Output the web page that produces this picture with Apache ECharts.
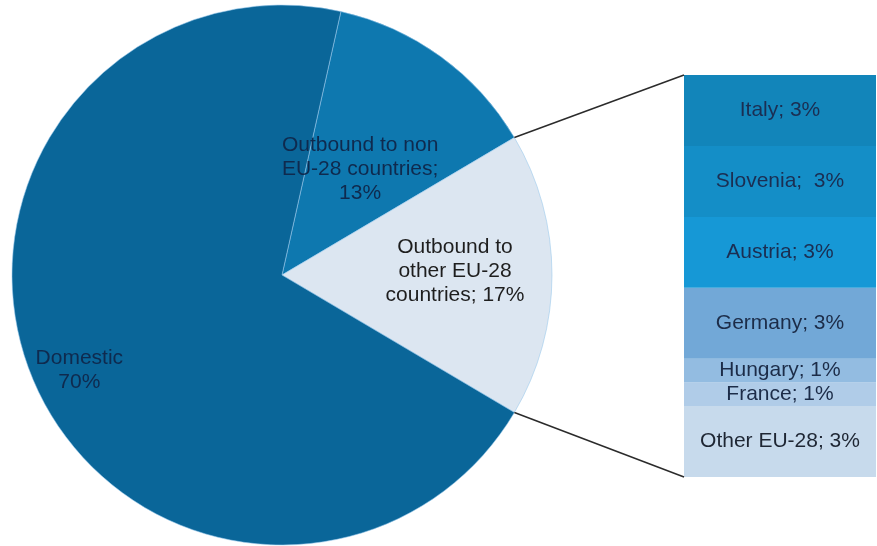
<!DOCTYPE html>
<html>
<head>
<meta charset="utf-8">
<script src="https://cdn.jsdelivr.net/npm/echarts@6/dist/echarts.min.js"></script>
<style>
  html, body { margin: 0; padding: 0; background: #ffffff; }
  #chart { width: 877px; height: 546px; }
</style>
</head>
<body>
<div id="chart"></div>
<script>
// Pie: where the trips go
const pieNames = ['Outbound to non EU-28 countries', 'Outbound to other EU-28 countries', 'Domestic'];
const pieValues = [13, 17, 70];
const pieLabels = ['Outbound to non\nEU-28 countries;\n13%', 'Outbound to\nother EU-28\ncountries; 17%', 'Domestic\n70%'];

// Stacked bar: breakdown of the "other EU-28" slice, top to bottom
const barNames = ['Italy', 'Slovenia', 'Austria', 'Germany', 'Hungary', 'France', 'Other EU-28'];
const barValues = [3, 3, 3, 3, 1, 1, 3];
const barLabels = ['Italy; 3%', 'Slovenia;  3%', 'Austria; 3%', 'Germany; 3%', 'Hungary; 1%', 'France; 1%', 'Other EU-28; 3%'];

// Styling
const pieColors = ['#0E78AF', '#DCE6F1', '#0A6699'];
const pieTextColors = ['#0f2a4e', '#1e1e1e', '#0f2a4e'];
const barColors = ['#1285BA', '#148EC7', '#1698D6', '#72A8D7', '#93BCE1', '#B0CCE8', '#C7DAEC'];
const barTextColors = ['#1b2e52', '#1b2e52', '#1b2e52', '#1c2c48', '#1c2c48', '#1c2c48', '#1e2633'];
const FONT = '"Liberation Sans", Arial, sans-serif';
const FONT_SIZE = 21;

const pieCenter = [282, 275];
const pieRadius = 270;
const barBox = { left: 684, top: 75, width: 192, height: 402 };

// Slice 1 (other EU-28) is centred on the horizontal axis, facing the bar
const pieTotal = pieValues.reduce((a, b) => a + b, 0);
const halfDetail = pieValues[1] / pieTotal * 180;            // degrees
const startAngle = halfDetail + pieValues[0] / pieTotal * 360;
const barTotal = barValues.reduce((a, b) => a + b, 0);

// Label nudges relative to ECharts' "inside" anchor
const pieLabelShift = [[-3, 6], [35, -4], [-76, 40]];

const chart = echarts.init(document.getElementById('chart'), null, { renderer: 'canvas' });

// Bars stack bottom-up, so add series from the last category upwards
const barSeries = [];
for (let i = barNames.length - 1; i >= 0; i--) {
  barSeries.push({
    type: 'bar',
    name: barNames[i],
    stack: 'detail',
    barWidth: '100%',
    silent: true,
    data: [barValues[i]],
    itemStyle: { color: barColors[i] },
    label: {
      show: true,
      position: 'inside',
      formatter: barLabels[i],
      color: barTextColors[i],
      fontFamily: FONT,
      fontSize: FONT_SIZE
    }
  });
}

// Connector lines from the slice's edges to the bar's corners
const a = halfDetail * Math.PI / 180;
const edgeX = pieCenter[0] + pieRadius * Math.cos(a);
const edgeTopY = pieCenter[1] - pieRadius * Math.sin(a);
const edgeBotY = pieCenter[1] + pieRadius * Math.sin(a);

chart.setOption({
  animation: false,
  backgroundColor: '#ffffff',
  grid: { left: barBox.left, top: barBox.top, width: barBox.width, height: barBox.height },
  xAxis: { type: 'category', data: [''], show: false },
  yAxis: { type: 'value', min: 0, max: barTotal, show: false },
  series: [
    {
      type: 'pie',
      center: pieCenter,
      radius: pieRadius,
      startAngle: startAngle,
      clockwise: true,
      silent: true,
      data: pieNames.map((n, i) => ({
        name: n,
        value: pieValues[i],
        itemStyle: { color: pieColors[i] },
        label: { color: pieTextColors[i] }
      })),
      itemStyle: { borderColor: 'rgba(150,200,235,0.8)', borderWidth: 0.7 },
      label: {
        show: true,
        position: 'inside',
        formatter: p => pieLabels[p.dataIndex],
        fontFamily: FONT,
        fontSize: FONT_SIZE,
        lineHeight: 24,
        align: 'center'
      },
      labelLine: { show: false },
      labelLayout: p => ({ dx: pieLabelShift[p.dataIndex][0], dy: pieLabelShift[p.dataIndex][1] })
    },
    ...barSeries
  ],
  graphic: [
    {
      type: 'line', z: 100,
      shape: { x1: edgeX, y1: edgeTopY, x2: barBox.left, y2: barBox.top },
      style: { stroke: '#2b2b2b', lineWidth: 1.5 }
    },
    {
      type: 'line', z: 100,
      shape: { x1: edgeX, y1: edgeBotY, x2: barBox.left, y2: barBox.top + barBox.height },
      style: { stroke: '#2b2b2b', lineWidth: 1.5 }
    }
  ]
});
</script>
</body>
</html>
